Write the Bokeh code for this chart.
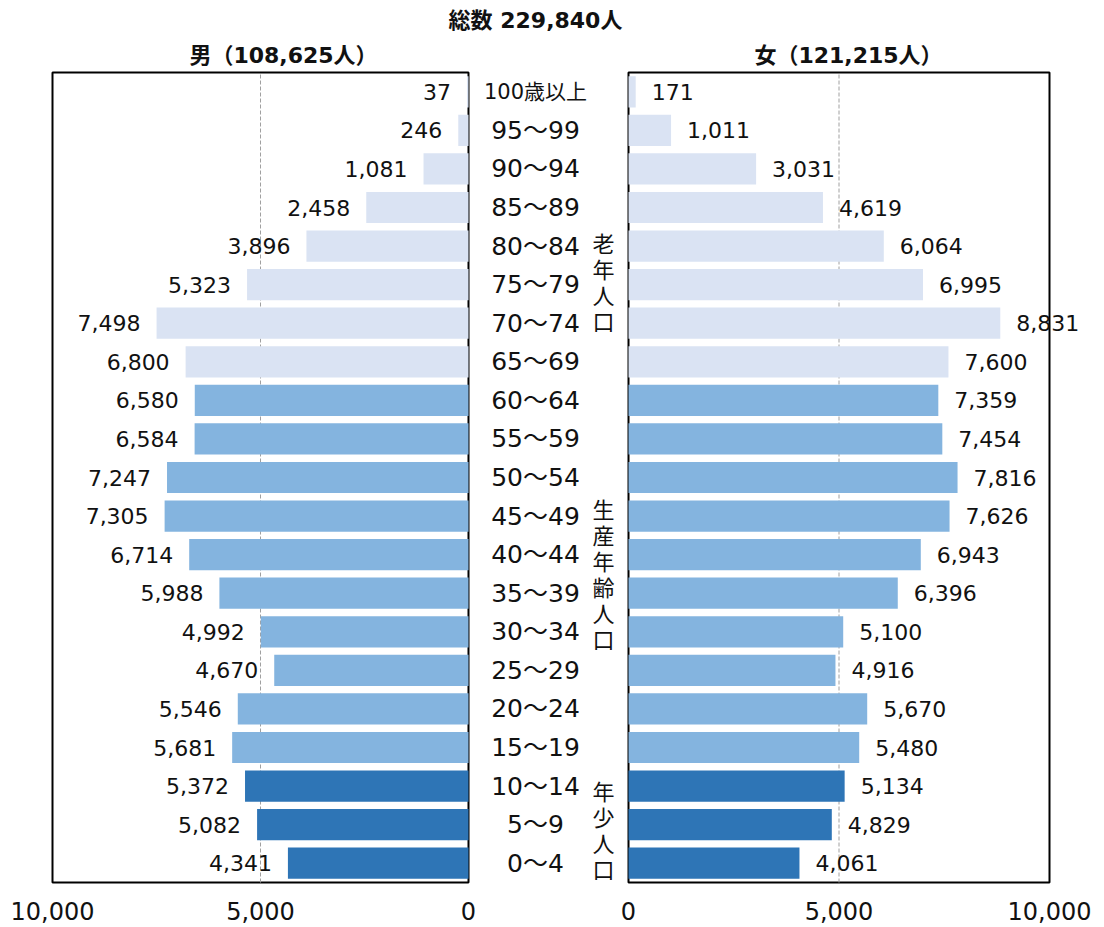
from bokeh.plotting import figure
from bokeh.models import Range1d
from bokeh.core.properties import value
from bokeh.embed import file_html
from bokeh.resources import INLINE

# ---- data (listed from the oldest group at the top down to the youngest) ----
age_labels = ["100歳以上", "95〜99", "90〜94", "85〜89", "80〜84", "75〜79", "70〜74",
              "65〜69", "60〜64", "55〜59", "50〜54", "45〜49", "40〜44", "35〜39",
              "30〜34", "25〜29", "20〜24", "15〜19", "10〜14", "5〜9", "0〜4"]
male = [37, 246, 1081, 2458, 3896, 5323, 7498, 6800, 6580, 6584, 7247, 7305,
        6714, 5988, 4992, 4670, 5546, 5681, 5372, 5082, 4341]
female = [171, 1011, 3031, 4619, 6064, 6995, 8831, 7600, 7359, 7454, 7816, 7626,
          6943, 6396, 5100, 4916, 5670, 5480, 5134, 4829, 4061]
group_names = ["老年人口", "生産年齢人口", "年少人口"]
group_sizes = [8, 10, 3]
group_colors = ["#DAE3F3", "#84B4DF", "#2E75B6"]
ticks = [0, 5000, 10000]
total_title = "総数 229,840人"
male_title = "男（108,625人）"
female_title = "女（121,215人）"

# ---- layout ----
W, H = 1104, 927
AXIS_MAX = 10000
M_ZERO, M_FULL = 468, 52       # male panel: value 0 / 10000 (px)
F_ZERO, F_FULL = 628, 1049     # female panel: value 0 / 10000 (px)
FRAME_TOP, FRAME_BOTTOM = 72, 882
n = len(age_labels)

m_px = (M_ZERO - M_FULL) / AXIS_MAX
f_px = (F_FULL - F_ZERO) / AXIS_MAX
row_px = (FRAME_BOTTOM - FRAME_TOP) / n

male_range = Range1d(AXIS_MAX + M_FULL / m_px, -(W - M_ZERO) / m_px)
female_range = Range1d(-F_ZERO / f_px, AXIS_MAX + (W - F_FULL) / f_px)
row_range = Range1d(-0.5 - (H - FRAME_BOTTOM) / row_px, n - 0.5 + FRAME_TOP / row_px)

rows = [n - 1 - i for i in range(n)]
colors = []
for size, c in zip(group_sizes, group_colors):
    colors += [c] * size

NUM_FONT = value("DejaVu Sans, Noto Sans CJK JP")
CJK_FONT = value("Noto Sans CJK JP")

p = figure(width=W, height=H, x_range=male_range, y_range=row_range,
           output_backend="svg", toolbar_location=None, min_border=0,
           x_axis_type=None, y_axis_type=None, outline_line_color=None,
           background_fill_color="white", border_fill_color="white")
p.extra_x_ranges = {"female": female_range, "px": Range1d(0, W)}
p.extra_y_ranges = {"py": Range1d(H, 0)}

# panel frames
p.quad(left=[AXIS_MAX], right=[0], bottom=[-0.5], top=[n - 0.5],
       fill_color=None, line_color="black", line_width=2)
p.quad(left=[0], right=[AXIS_MAX], bottom=[-0.5], top=[n - 0.5],
       fill_color=None, line_color="black", line_width=2, x_range_name="female")

# dashed reference lines at the middle tick
mid = ticks[1:-1]
p.segment(x0=mid, y0=[-0.5] * len(mid), x1=mid, y1=[n - 0.5] * len(mid),
          line_color="#A0A0A0", line_width=1, line_dash="4 2")
p.segment(x0=mid, y0=[-0.5] * len(mid), x1=mid, y1=[n - 0.5] * len(mid),
          line_color="#A0A0A0", line_width=1, line_dash="4 2", x_range_name="female")

# bars
BAR_H = 0.81
p.hbar(y=rows, left=0, right=male, height=BAR_H, fill_color=colors, line_color=None)
p.hbar(y=rows, left=0, right=female, height=BAR_H, fill_color=colors, line_color=None,
       x_range_name="female")

# value labels
male_txt = [f"{v:,}" for v in male]
female_txt = [f"{v:,}" for v in female]
p.text(x=male, y=rows, text=male_txt, text_align="right", text_baseline="middle",
       x_offset=-16, text_font=NUM_FONT, text_font_size="22px", text_color="#111111")
p.text(x=female, y=rows, text=female_txt, text_align="left", text_baseline="middle",
       x_offset=16, text_font=NUM_FONT, text_font_size="22px", text_color="#111111",
       x_range_name="female")

# age class labels in the centre column (the open-ended top class is set smaller)
age_sizes = ["21px" if "歳" in a else "25px" for a in age_labels]
p.text(x=[535] * n, y=rows, text=age_labels, text_align="center", text_baseline="middle",
       text_font=NUM_FONT, text_font_size=age_sizes, text_color="#111111", x_range_name="px")

# vertical group labels
group_tops = [241, 507, 789]
STEP = 26
gx, gy, gt = [], [], []
for name, top in zip(group_names, group_tops):
    for k, ch in enumerate(name):
        gx.append(603)
        gy.append(top + k * STEP)
        gt.append(ch)
p.text(x=gx, y=gy, text=gt, text_align="center", text_baseline="middle",
       text_font=CJK_FONT, text_font_size="22px", text_color="#111111",
       x_range_name="px", y_range_name="py")

# tick labels under each panel
tick_txt = [f"{t:,}" for t in ticks]
p.text(x=ticks, y=[910] * len(ticks), text=tick_txt, text_align="center",
       text_baseline="middle", text_font=NUM_FONT, text_font_size="24px",
       text_color="#111111", y_range_name="py")
p.text(x=ticks, y=[910] * len(ticks), text=tick_txt, text_align="center",
       text_baseline="middle", text_font=NUM_FONT, text_font_size="24px",
       text_color="#111111", x_range_name="female", y_range_name="py")

# titles
p.text(x=[535], y=[20], text=[total_title], text_align="center", text_baseline="middle",
       text_font=NUM_FONT, text_font_size="22px", text_font_style="bold",
       text_color="#111111", x_range_name="px", y_range_name="py")
p.text(x=[283, 848], y=[55, 55], text=[male_title, female_title], text_align="center",
       text_baseline="middle", text_font=NUM_FONT, text_font_size="22px",
       text_font_style="bold", text_color="#111111", x_range_name="px", y_range_name="py")

open("out.html", "w").write(file_html(p, INLINE))
